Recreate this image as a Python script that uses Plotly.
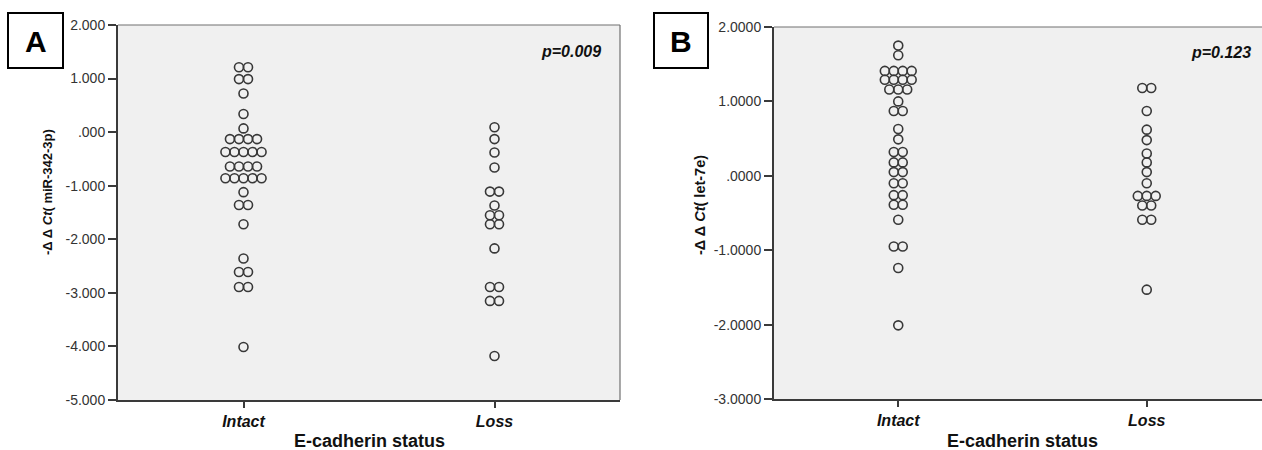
import plotly.graph_objects as go
from collections import Counter

# ---------------- data ----------------
categories = ["Intact", "Loss"]

# Panel A: -ΔΔCt(miR-342-3p)
a_intact = [1.21, 1.21, 0.99, 0.99, 0.72, 0.34, 0.07,
            -0.13, -0.13, -0.13, -0.13,
            -0.37, -0.37, -0.37, -0.37, -0.37,
            -0.64, -0.64, -0.64, -0.64,
            -0.86, -0.86, -0.86, -0.86, -0.86,
            -1.12, -1.36, -1.36, -1.72, -2.36,
            -2.61, -2.61, -2.89, -2.89, -4.01]
a_loss = [0.09, -0.13, -0.38, -0.66, -1.11, -1.11, -1.37,
          -1.55, -1.55, -1.72, -1.72, -2.17,
          -2.89, -2.89, -3.15, -3.15, -4.18]

# Panel B: -ΔΔCt(let-7e)
b_intact = [1.75, 1.62, 1.41, 1.41, 1.41, 1.41,
            1.29, 1.29, 1.29, 1.29, 1.16, 1.16, 1.16,
            1.00, 0.87, 0.87, 0.63, 0.49,
            0.32, 0.32, 0.18, 0.18, 0.05, 0.05,
            -0.10, -0.10, -0.26, -0.26, -0.39, -0.39,
            -0.59, -0.95, -0.95, -1.24, -2.01]
b_loss = [1.18, 1.18, 0.87, 0.62, 0.48, 0.30, 0.18, 0.05, -0.10,
          -0.27, -0.27, -0.27, -0.40, -0.40, -0.59, -0.59, -1.53]

a_ticks = [2, 1, 0, -1, -2, -3, -4, -5]
a_ticklabels = ["2.000", "1.000", ".000", "-1.000", "-2.000", "-3.000", "-4.000", "-5.000"]
b_ticks = [2, 1, 0, -1, -2, -3]
b_ticklabels = ["2.0000", "1.0000", ".0000", "-1.0000", "-2.0000", "-3.0000"]

p_a = "p=0.009"
p_b = "p=0.123"
ytitle_a = "-Δ Δ <i>Ct</i>( miR-342-3p)"
ytitle_b = "-Δ Δ <i>Ct</i>( let-7e)"
xtitle = "E-cadherin status"

# ---------------- layout helpers ----------------
W, H = 1262, 450
FONT = "Liberation Sans, Arial, sans-serif"
SPACING = 0.036  # horizontal dodge between stacked dots (x units)


def dodge(values, center):
    counts = Counter(values)
    seen = Counter()
    xs = []
    for v in values:
        n = counts[v]
        i = seen[v]
        seen[v] += 1
        xs.append(center + (i - (n - 1) / 2) * SPACING)
    return xs


fig = go.Figure()
marker = dict(symbol="circle-open", size=9, color="#383838",
              line=dict(width=1.6, color="#383838"))

for ax, groups in (("", (a_intact, a_loss)), ("2", (b_intact, b_loss))):
    for ci, vals in enumerate(groups):
        fig.add_trace(go.Scatter(
            x=dodge(vals, ci), y=vals, mode="markers", marker=marker,
            xaxis="x" + ax, yaxis="y" + ax, showlegend=False,
            hoverinfo="y"))


def px(x):
    return x / W


def py(y):
    return 1 - y / H


axis_common = dict(showgrid=False, zeroline=False, showline=True, automargin=False,
                   linecolor="#3a3a3a", linewidth=2, ticks="outside",
                   tickcolor="#3a3a3a", tickwidth=1.5)

a_left, a_right, a_top, a_bot = 118, 620, 25, 400
b_left, b_right_full, b_top, b_bot = 774, 1271, 27, 399

xtickfont = dict(size=16, weight="bold", style="italic", color="#111")
fig.update_layout(
    width=W, height=H, margin=dict(l=0, r=0, t=0, b=0, autoexpand=False),
    paper_bgcolor="white", plot_bgcolor="#f0f0f0",
    font=dict(family=FONT, color="#222"),
    xaxis=dict(domain=[px(a_left), px(a_right)], range=[-0.5, 1.5],
               tickvals=[0, 1], ticktext=categories, ticklen=6,
               tickfont=xtickfont, anchor="y", **axis_common),
    yaxis=dict(domain=[py(a_bot), py(a_top)], range=[-5, 2],
               tickvals=a_ticks, ticktext=a_ticklabels, ticklen=8,
               tickfont=dict(size=14, color="#333"), anchor="x", **axis_common),
    xaxis2=dict(domain=[px(b_left), 1],
                range=[-0.5, -0.5 + 2 * (W - b_left) / (b_right_full - b_left)],
                tickvals=[0, 1], ticktext=categories, ticklen=6,
                tickfont=xtickfont, anchor="y2", **axis_common),
    yaxis2=dict(domain=[py(b_bot), py(b_top)], range=[-3, 2],
                tickvals=b_ticks, ticktext=b_ticklabels, ticklen=8,
                tickfont=dict(size=14, color="#333"), anchor="x2", **axis_common),
)

shapes = [
    # frame (top & right) of panel A
    dict(type="line", xref="x domain", yref="y domain", x0=0, x1=1, y0=1, y1=1,
         line=dict(color="#707070", width=1.2)),
    dict(type="line", xref="x domain", yref="y domain", x0=1, x1=1, y0=0, y1=1,
         line=dict(color="#707070", width=1.2)),
    # top frame of panel B
    dict(type="line", xref="x2 domain", yref="y2 domain", x0=0, x1=1, y0=1, y1=1,
         line=dict(color="#707070", width=1.2)),
    # panel letter boxes
    dict(type="rect", xref="paper", yref="paper", x0=px(8), x1=px(63),
         y0=py(68), y1=py(13), line=dict(color="black", width=2), fillcolor="white"),
    dict(type="rect", xref="paper", yref="paper", x0=px(654), x1=px(708),
         y0=py(68), y1=py(13), line=dict(color="black", width=2), fillcolor="white"),
]


def ann(text, x, y, size, xanchor="center", angle=0, color="#111"):
    return dict(text=text, x=px(x), y=py(y), xref="paper", yref="paper",
                xanchor=xanchor, yanchor="middle", textangle=angle,
                showarrow=False, font=dict(size=size, color=color))


annotations = [
    ann("<b>A</b>", 35.5, 41, 30, color="black"),
    ann("<b>B</b>", 681, 41, 30, color="black"),
    ann("<b>" + ytitle_a + "</b>", 47, 192, 13, angle=-90),
    ann("<b>" + ytitle_b + "</b>", 700, 205, 14.5, angle=-90),
    ann("<b><i>" + p_a + "</i></b>", 603, 52, 16, xanchor="right"),
    ann("<b><i>" + p_b + "</i></b>", 1253, 53, 16, xanchor="right"),
    ann("<b>" + xtitle + "</b>", (a_left + a_right) / 2, 441, 18),
    ann("<b>" + xtitle + "</b>", (b_left + b_right_full) / 2, 441, 18),
]

fig.update_layout(shapes=shapes, annotations=annotations)
fig.write_html("out.html", config={"displayModeBar": False},
               post_script="document.body.style.margin='0';document.body.style.overflow='hidden';")
